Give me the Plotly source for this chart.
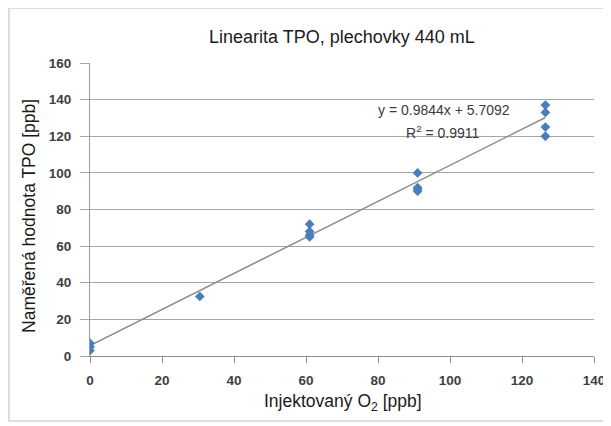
import plotly.graph_objects as go

# Data
x_inj = [0, 0, 0, 30.5, 61, 61, 61, 61, 91, 91, 91, 91, 126.5, 126.5, 126.5, 126.5]
y_meas = [7, 5, 3, 32.5, 72, 68, 66, 65, 100, 92, 91, 90, 137, 133, 125, 120]
slope = 0.9844
intercept = 5.7092
r2 = 0.9911
x_ticks = [0, 20, 40, 60, 80, 100, 120, 140]
y_ticks = [0, 20, 40, 60, 80, 100, 120, 140, 160]

line_x = [min(x_inj), max(x_inj)]
line_y = [slope * v + intercept for v in line_x]

fig = go.Figure()
fig.add_trace(go.Scatter(x=line_x, y=line_y, mode="lines",
                         line=dict(color="#8c8c8c", width=1.5), showlegend=False,
                         hoverinfo="skip"))
fig.add_trace(go.Scatter(x=x_inj, y=y_meas, mode="markers",
                         marker=dict(symbol="diamond", size=7.5, color="#4a7ebb"),
                         showlegend=False))

tickfont = dict(family="Liberation Sans", size=13.5, color="#404040", weight="bold")
titlefont = dict(family="Liberation Sans", size=17.5, color="#1a1a1a")
fig.update_layout(
    width=611, height=426,
    margin=dict(l=82, r=25, t=55, b=78),
    paper_bgcolor="white", plot_bgcolor="white",
    xaxis=dict(range=[0, 140], tickvals=x_ticks, showgrid=False, zeroline=False,
               showline=True, linecolor="#8c8c8c", linewidth=1,
               ticks="outside", ticklen=6, tickcolor="#8c8c8c", tickfont=tickfont,
               ticklabelstandoff=6),
    yaxis=dict(range=[0, 160], tickvals=y_ticks, showgrid=True, gridcolor="#a6a6a6",
               gridwidth=1, zeroline=False, showline=True, linecolor="#9a9a9a",
               ticks="outside", ticklen=9, tickcolor="#a6a6a6", tickfont=tickfont,
               ticklabelstandoff=6),
    shapes=[dict(type="rect", xref="paper", yref="paper", x0=-0.1607, x1=1.024,
                 y0=-0.222, y1=1.188, line=dict(color="#d4d4d4", width=1.5),
                 fillcolor="rgba(0,0,0,0)", layer="below")],
    annotations=[
        dict(x=0.5, y=1.089, xref="paper", yref="paper", xanchor="center", yanchor="middle",
             showarrow=False, text="Linearita TPO, plechovky 440 mL",
             font=dict(family="Liberation Sans", size=18, color="#1a1a1a")),
        dict(x=0.502, y=-0.160, xref="paper", yref="paper", xanchor="center", yanchor="middle",
             showarrow=False, text="Injektovaný O<sub>2</sub> [ppb]", font=titlefont),
        dict(x=-0.121, y=0.478, xref="paper", yref="paper", xanchor="center", yanchor="middle",
             showarrow=False, text="Naměřená hodnota TPO [ppb]", textangle=-90, font=titlefont),
        dict(x=0.702, y=0.840, xref="paper", yref="paper", xanchor="center", yanchor="middle",
             showarrow=False, text=f"y = {slope}x + {intercept}",
             font=dict(family="Liberation Sans", size=14, color="#3a3a3a")),
        dict(x=0.700, y=0.765, xref="paper", yref="paper", xanchor="center", yanchor="middle",
             showarrow=False, text=f"R<sup>2</sup> = {r2}",
             font=dict(family="Liberation Sans", size=14, color="#3a3a3a")),
    ],
)
fig.write_html("out.html")
